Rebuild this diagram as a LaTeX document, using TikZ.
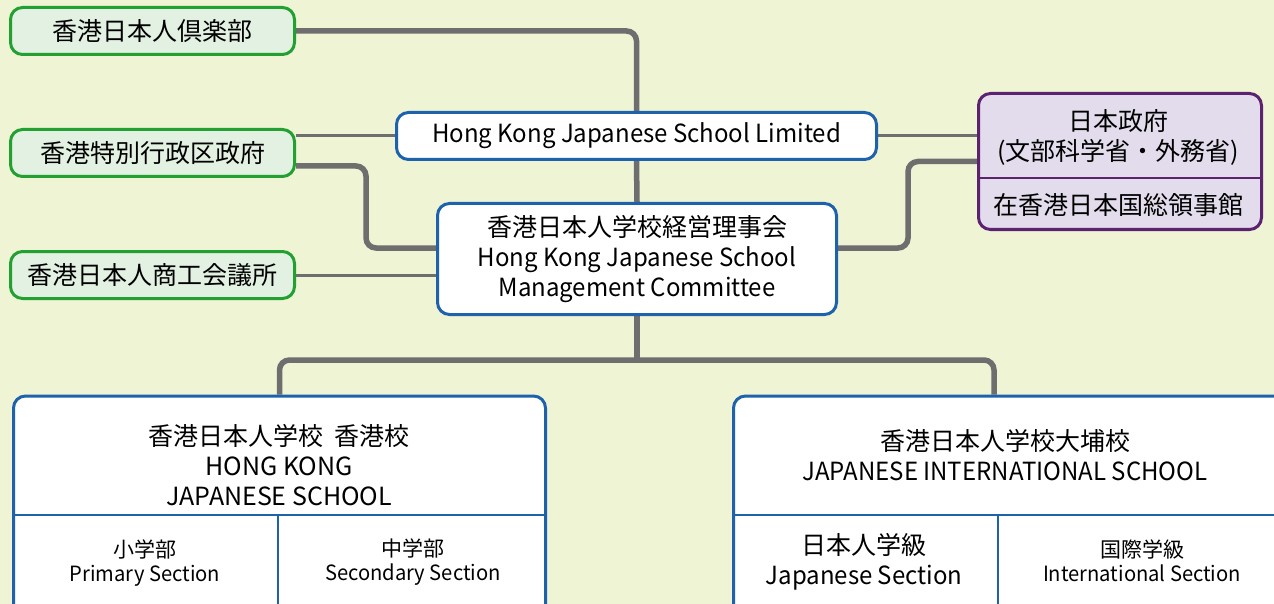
\documentclass[tikz,border=0pt]{standalone}
\usepackage{fontspec}
\setmainfont{Noto Sans CJK JP}
\newfontfamily\narrowlatin[FakeStretch=0.96]{Noto Sans CJK JP}
\usetikzlibrary{positioning,backgrounds}

\definecolor{bgcol}{HTML}{EEF4D4}
\definecolor{clubgreen}{HTML}{22A032}
\definecolor{clubfill}{HTML}{E2F1E2}
\definecolor{schoolblue}{HTML}{1E62AE}
\definecolor{govpurple}{HTML}{5C2270}
\definecolor{govfill}{HTML}{E2DCEC}
\definecolor{linkgray}{HTML}{6E6E6E}

\newcommand{\nl}[1]{{\narrowlatin #1}}

\tikzset{
  big/.style={font=\fontsize{25}{30}\selectfont, align=center},
  small/.style={font=\fontsize{21}{24}\selectfont, align=center},
  greenbox/.style={draw=clubgreen, fill=clubfill, line width=3pt, rounded corners=12pt,
    minimum width=284pt, minimum height=47pt, inner sep=0pt, big},
  bluebox/.style={draw=schoolblue, fill=white, line width=3pt, rounded corners=12pt,
    inner sep=0pt, big},
  govbox/.style={draw=govpurple, fill=govfill, line width=3pt, rounded corners=12pt,
    inner sep=0pt},
  thicklink/.style={draw=linkgray, line width=5.5pt, rounded corners=10pt},
  thinlink/.style={draw=linkgray, line width=3pt},
}

\begin{document}
\begin{tikzpicture}[x=1pt,y=-1pt]
\useasboundingbox (0,0) rectangle (1274,604);

\node[greenbox] (club) at (152.5,31) {香港日本人倶楽部};
\node[greenbox, below=72pt of club] (hkgov) {香港特別行政区政府};
\node[greenbox, below=72pt of hkgov] (chamber) {香港日本人商工会議所};

\node[bluebox, minimum width=480pt, minimum height=47pt] (hkjs) at (636.5,136)
  {\nl{Hong Kong Japanese School Limited}};
\node[bluebox, minimum width=399pt, minimum height=111pt] (comm) at (637,259)
  {香港日本人学校経営理事会\\\nl{Hong Kong Japanese School}\\\nl{Management Committee}};

\node[govbox, minimum width=283pt, minimum height=136pt] (jpgov) at (1120,161.5) {};
\draw[draw=govpurple, line width=2pt] (jpgov.west |- 0,178) -- (jpgov.east |- 0,178);
\node[big] (jpgovname) at (1118,137) {日本政府\\(文部科学省・外務省)};
\node[big] (consulate) at (1118,205) {在香港日本国総領事館};

\node[bluebox, minimum width=532pt, minimum height=244pt] (hkschool) at (279.5,518) {};
\draw[draw=schoolblue, line width=2pt] (hkschool.west |- 0,515) -- (hkschool.east |- 0,515);
\draw[draw=schoolblue, line width=2pt] (278,515) -- (hkschool.south -| 278,0);
\node[big] (hkname) at (279,465) {香港日本人学校\ \ 香港校\\HONG KONG\\JAPANESE SCHOOL};
\node[small] (primary) at (145,563) {小学部\\\nl{Primary Section}};
\node[small] (secondary) at (413,562) {中学部\\\nl{Secondary Section}};

\node[bluebox, minimum width=567pt, minimum height=244pt] (tpschool) at (1017,518) {};
\draw[draw=schoolblue, line width=2pt] (tpschool.west |- 0,515) -- (tpschool.east |- 0,515);
\draw[draw=schoolblue, line width=2pt] (998,515) -- (tpschool.south -| 998,0);
\node[big] (tpname) at (1005,455) {香港日本人学校大埔校\\\nl{JAPANESE INTERNATIONAL SCHOOL}};
\node[big] (jpsec) at (864,562) {日本人学級\\\nl{Japanese Section}};
\node[small] (intsec) at (1142,561) {国際学級\\\nl{International Section}};

\coordinate (bus) at (637,360);

\begin{scope}[on background layer]
\fill[bgcol] (0,0) rectangle (1274,604);
\draw[thicklink] (club.east) -| (hkjs.north);
\draw[thinlink] (hkgov.east |- hkjs.west) -- (hkjs.west);
\draw[thicklink] ([yshift=-13pt]hkgov.east) -- ++(70,0) |- ([yshift=11pt]comm.west);
\draw[thinlink] (chamber.east) -- (chamber.east -| comm.west);
\draw[thinlink] (hkjs.east) -- (hkjs.east -| jpgov.west);
\draw[thicklink] ([yshift=11pt]comm.east) -- ++(70,0) |- (jpgov.west);
\draw[thicklink] (hkjs.south) -- (comm.north);
\draw[thicklink] (comm.south) -- (bus);
\draw[thicklink] (hkschool.north) |- (bus) -| ([xshift=-23pt]tpschool.north);
\end{scope}
\end{tikzpicture}
\end{document}
